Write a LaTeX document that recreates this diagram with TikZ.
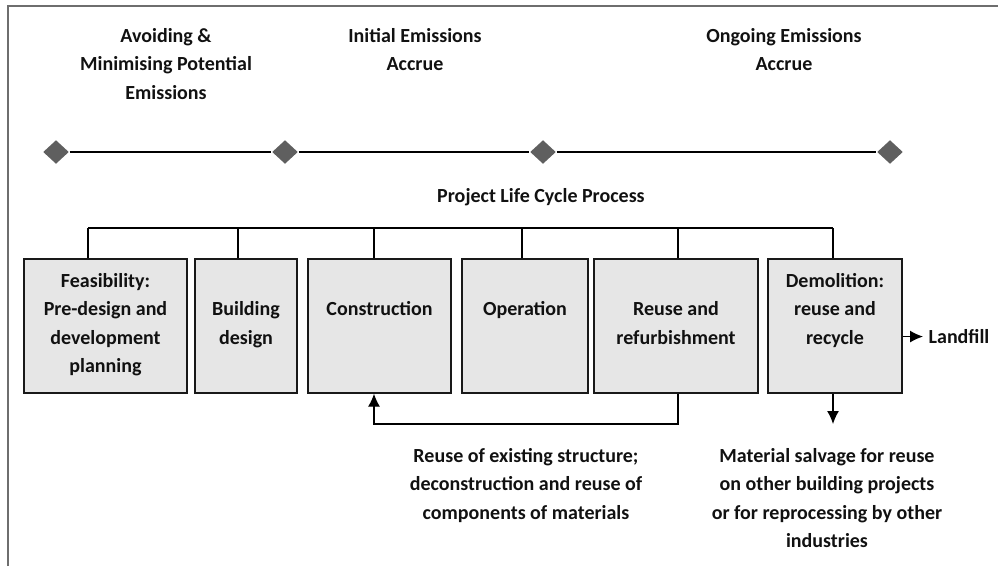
\documentclass[tikz,border=0pt]{standalone}
\usepackage{fontspec}
\setmainfont{Carlito}
\usetikzlibrary{shapes.geometric,arrows.meta}
\definecolor{boxfill}{HTML}{E6E6E6}
\definecolor{diamondgray}{HTML}{5F5F5F}
\definecolor{framegray}{HTML}{6E6E6E}
\definecolor{textblack}{HTML}{111111}
\begin{document}
\begin{tikzpicture}[
  x=1pt,y=-1pt,
  >={Latex[length=13pt,width=12pt]},
  line width=1.3pt,
  every node/.style={font=\fontsize{20}{28.5}\selectfont\bfseries,text=textblack},
  txt/.style={align=center,inner sep=0pt,anchor=north},
  stage/.style={draw=black!90,fill=boxfill,minimum height=134pt,inner sep=0pt},
  inbox/.style={align=center,inner sep=0pt,anchor=north},
  dmd/.style={diamond,fill=diamondgray,minimum width=26pt,minimum height=24pt,inner sep=0pt}
]
\useasboundingbox (0,0) rectangle (998,566);
% --- Frame ---
\draw[framegray,line width=2pt] (8,566) -- (8,6) -- (998,6);

% --- Top labels ---
\node[txt] (avoid) at (166,27.5) {Avoiding \&\\Minimising Potential\\Emissions};
\node[txt] (init)  at (415,27.5) {Initial Emissions\\Accrue};
\node[txt] (ongo)  at (784,27.5) {Ongoing Emissions\\Accrue};

% --- Timeline ---
\node[dmd] (d1) at (56,152) {};
\node[dmd] (d2) at (285,152) {};
\node[dmd] (d3) at (543,152) {};
\node[dmd] (d4) at (890,152) {};
\draw (d1) -- (d2) -- (d3) -- (d4);

\node[anchor=base,inner sep=0pt] (plc) at (541,202.5) {Project Life Cycle Process};

% --- Stages ---
\node[stage,minimum width=163pt,label={[inbox,yshift=-14pt]north:{Feasibility:\\Pre-design and\\development\\planning}}] (feas) at (105.5,326) {};
\node[stage,minimum width=102pt,label={[inbox,yshift=-42.5pt]north:{Building\\design}}] (bdes) at (246,326) {};
\node[stage,minimum width=143pt,label={[inbox,yshift=-42.5pt]north:{Construction}}] (cons) at (379.5,326) {};
\node[stage,minimum width=126pt,label={[inbox,yshift=-42.5pt]north:{Operation}}] (oper) at (525,326) {};
\node[stage,minimum width=164pt,label={[inbox,yshift=-42.5pt]north:{Reuse and\\refurbishment}}] (reuse) at (676,326) {};
\node[stage,minimum width=134pt,label={[inbox,yshift=-14pt]north:{Demolition:\\reuse and\\recycle}}] (demo) at (835,326) {};

% --- Bracket over the stages ---
\coordinate (t1) at (88,228);
\coordinate (t2) at (238,228);
\coordinate (t3) at (374,228);
\coordinate (t4) at (522,228);
\coordinate (t5) at (678,228);
\coordinate (t6) at (833,228);
\draw (t1) -- (t6);
\draw (t1) -- (t1 |- feas.north);
\draw (t2) -- (t2 |- bdes.north);
\draw (t3) -- (t3 |- cons.north);
\draw (t4) -- (t4 |- oper.north);
\draw (t5) -- (t5 |- reuse.north);
\draw (t6) -- (t6 |- demo.north);

% --- Outputs ---
\coordinate (fb) at (678,424);
\draw[->] (reuse.south -| fb) -- (fb) -| (cons.south -| t3);
\draw[->] (demo.south -| t6) -- (t6 |- fb);
\node[anchor=base west,inner sep=0pt] (landfill) at (928,343.5) {Landfill};
\draw[->] (demo.east |- landfill.west) -- ([xshift=-5pt]landfill.west);

\node[txt] (rtext) at (526,447.5) {Reuse of existing structure;\\deconstruction and reuse of\\components of materials};
\node[txt] (stext) at (827,447.5) {Material salvage for reuse\\on other building projects\\or for reprocessing by other\\industries};

\end{tikzpicture}
\end{document}
